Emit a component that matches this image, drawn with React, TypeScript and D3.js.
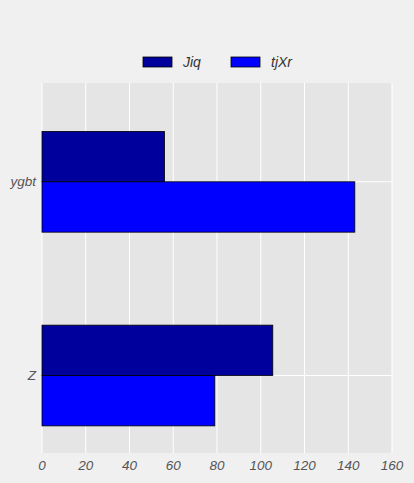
import * as d3 from "d3";

const categories = ["Z", "ygbt"];
const seriesNames = ["Jiq", "tjXr"];
const jiqValues = [105.5, 56];
const tjxrValues = [79, 143];
const xTicks = [0, 20, 40, 60, 80, 100, 120, 140, 160];
const colors = ["#00009c", "#0000ff"];

export default function App() {
  const width = 414;
  const height = 483;
  const margin = { top: 83, right: 22, bottom: 30, left: 42 };
  const x = d3.scaleLinear([0, 160], [margin.left, width - margin.right]);
  const y = d3.scaleLinear([-0.4, 1.51], [height - margin.bottom, margin.top]);
  const barH = 0.26;
  const series = [jiqValues, tjxrValues];
  const font = "'Liberation Sans', Arial, sans-serif";

  return (
    <svg
      width={width}
      height={height}
      style={{ position: "absolute", left: 0, top: 0, background: "#f0f0f0" }}
      fontFamily={font}
    >
      <rect x={0} y={0} width={width} height={height} fill="#f0f0f0" />
      <rect
        x={x(0)}
        y={margin.top}
        width={x(160) - x(0)}
        height={height - margin.bottom - margin.top}
        fill="#e5e5e5"
      />
      {xTicks.map(t => (
        <line key={t} x1={x(t)} x2={x(t)} y1={margin.top} y2={height - margin.bottom} stroke="#fff" strokeWidth={1} />
      ))}
      {categories.map((c, i) => (
        <line key={c} x1={x(0)} x2={x(160)} y1={y(i)} y2={y(i)} stroke="#fff" strokeWidth={1} />
      ))}
      {series.map((vals, s) =>
        vals.map((v, i) => {
          const top = s === 0 ? y(i + barH) : y(i);
          const bottom = s === 0 ? y(i) : y(i - barH);
          return (
            <rect
              key={`${s}-${i}`}
              x={x(0)}
              y={top}
              width={x(v) - x(0)}
              height={bottom - top}
              fill={colors[s]}
              stroke="#000"
              strokeWidth={0.8}
            />
          );
        })
      )}
      {xTicks.map(t => (
        <text key={t} x={x(t)} y={470} textAnchor="middle" fontSize={13.5} fontStyle="italic" fill="#555">
          {t}
        </text>
      ))}
      {categories.map((c, i) => (
        <text key={c} x={36} y={y(i) + 4} textAnchor="end" fontSize={13.5} fontStyle="italic" fill="#555">
          {c}
        </text>
      ))}
      {seriesNames.map((n, s) => {
        const lx = s === 0 ? 143 : 231;
        return (
          <g key={n}>
            <rect x={lx} y={57} width={29} height={10} fill={colors[s]} stroke="#000" strokeWidth={0.8} />
            <text x={lx + 40} y={67} fontSize={14} fontStyle="italic" fill="#333">
              {n}
            </text>
          </g>
        );
      })}
    </svg>
  );
}
